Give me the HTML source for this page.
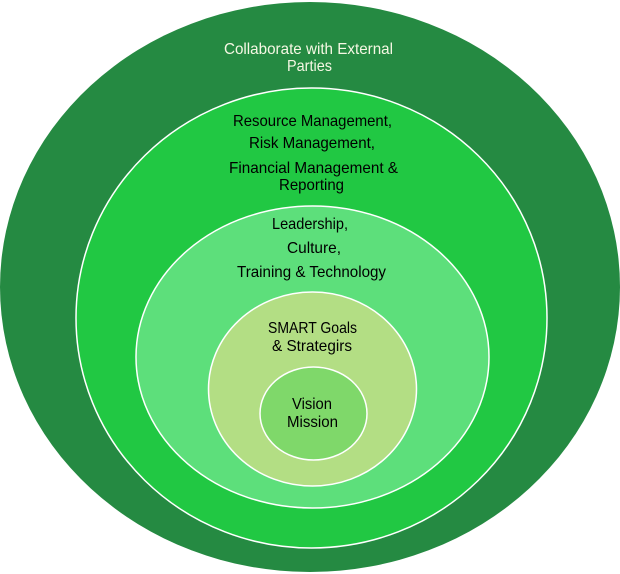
<!DOCTYPE html>
<html>
<head>
<meta charset="utf-8">
<style>
  html, body { margin: 0; padding: 0; background: #ffffff; }
  body { width: 620px; height: 574px; overflow: hidden; }
  svg { display: block; }
  text { font-family: "Liberation Sans", Arial, sans-serif; font-size: 16px; fill: #000000; }
  .w { fill: #f6f8e4; }
</style>
</head>
<body>
<svg width="620" height="574" viewBox="0 0 620 574" xmlns="http://www.w3.org/2000/svg">
  <rect width="620" height="574" fill="#ffffff"/>
  <!-- outer -->
  <ellipse cx="310" cy="287" rx="310" ry="285" fill="#258a42"/>
  <!-- ring 2 -->
  <ellipse cx="311.5" cy="318" rx="235.5" ry="230" fill="#21c843" stroke="#ffffff" stroke-width="1.5"/>
  <!-- ring 3 -->
  <ellipse cx="312.5" cy="357" rx="176.5" ry="151" fill="#5ddf7b" stroke="#ffffff" stroke-width="1.5"/>
  <!-- ring 4 -->
  <ellipse cx="312.5" cy="389" rx="104" ry="97" fill="#b3de84" stroke="#ffffff" stroke-width="1.5"/>
  <!-- ring 5 -->
  <ellipse cx="313.5" cy="413.5" rx="53.5" ry="46.5" fill="#7fd86a" stroke="#ffffff" stroke-width="1.5"/>

  <!-- labels -->
  <text class="w" x="308.5" y="54" text-anchor="middle" textLength="169" lengthAdjust="spacingAndGlyphs">Collaborate with External</text>
  <text class="w" x="309.5" y="71" text-anchor="middle" textLength="45" lengthAdjust="spacingAndGlyphs">Parties</text>

  <text x="312.5" y="126" text-anchor="middle" textLength="159" lengthAdjust="spacingAndGlyphs">Resource Management,</text>
  <text x="312" y="148" text-anchor="middle" textLength="126" lengthAdjust="spacingAndGlyphs">Risk Management,</text>
  <text x="313.5" y="173" text-anchor="middle" textLength="169" lengthAdjust="spacingAndGlyphs">Financial Management &amp;</text>
  <text x="311.5" y="190" text-anchor="middle" textLength="65" lengthAdjust="spacingAndGlyphs">Reporting</text>

  <text x="310" y="229" text-anchor="middle" textLength="76" lengthAdjust="spacingAndGlyphs">Leadership,</text>
  <text x="314" y="253" text-anchor="middle" textLength="54" lengthAdjust="spacingAndGlyphs">Culture,</text>
  <text x="311.5" y="277" text-anchor="middle" textLength="149" lengthAdjust="spacingAndGlyphs">Training &amp; Technology</text>

  <text x="312.5" y="333" text-anchor="middle" textLength="89" lengthAdjust="spacingAndGlyphs">SMART Goals</text>
  <text x="312" y="351" text-anchor="middle" textLength="80" lengthAdjust="spacingAndGlyphs">&amp; Strategirs</text>

  <text x="312" y="409" text-anchor="middle" textLength="40" lengthAdjust="spacingAndGlyphs">Vision</text>
  <text x="312.5" y="427" text-anchor="middle" textLength="51" lengthAdjust="spacingAndGlyphs">Mission</text>
</svg>
</body>
</html>
